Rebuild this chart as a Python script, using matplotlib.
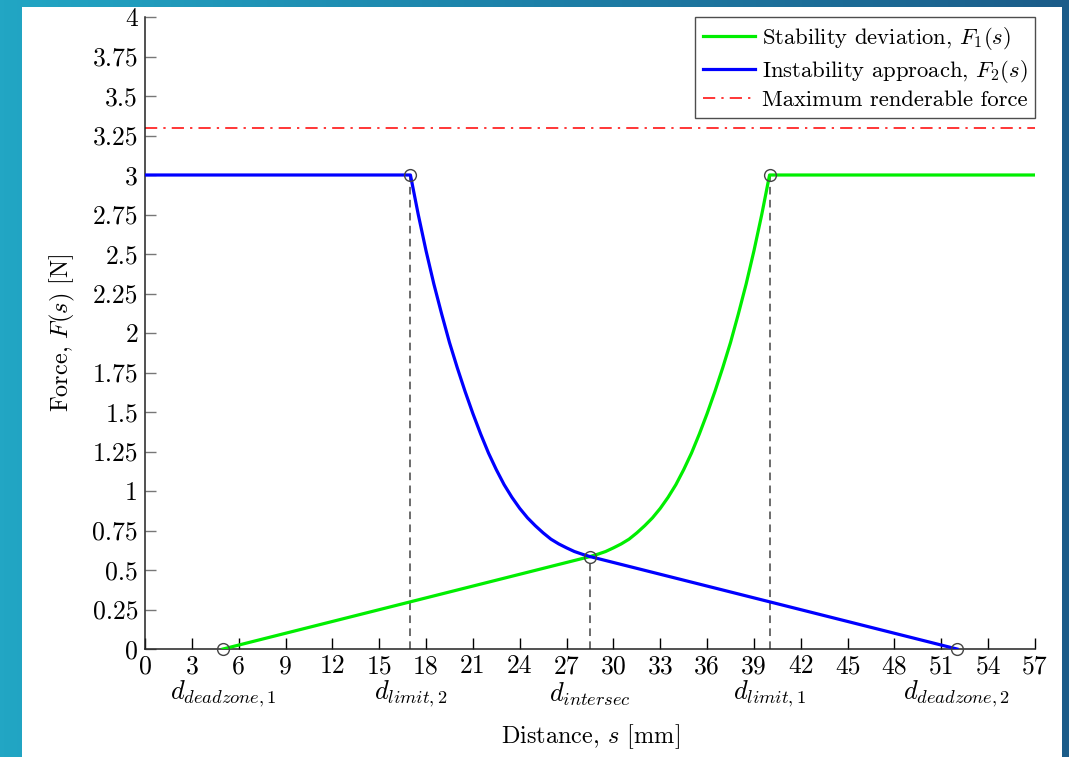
import numpy as np
import matplotlib
matplotlib.use("Agg")
import matplotlib.pyplot as plt
from matplotlib.patches import Rectangle
from matplotlib.colors import LinearSegmentedColormap

plt.rcParams['font.family'] = ['cmr10', 'DejaVu Serif']
plt.rcParams['mathtext.fontset'] = 'cm'
plt.rcParams['axes.unicode_minus'] = False

# ---- data ----
blue_s = [0, 17, 17.5, 18, 18.5, 19, 19.5, 20, 20.5, 21, 21.5, 22, 22.5, 23,
          23.5, 24, 24.5, 25, 25.5, 26, 26.5, 27, 27.5, 28, 28.5, 52]
blue_f = [3, 3, 2.75, 2.52, 2.31, 2.12, 1.94, 1.78, 1.63, 1.49, 1.36, 1.24,
          1.135, 1.04, 0.96, 0.89, 0.83, 0.78, 0.735, 0.695, 0.665, 0.64,
          0.617, 0.60, 0.585, 0]

green_s = [5, 28.5, 29, 29.5, 30, 30.5, 31, 31.5, 32, 32.5, 33, 33.5, 34,
           34.5, 35, 35.5, 36, 36.5, 37, 37.5, 38, 38.5, 39, 39.5, 40, 57]
green_f = [0, 0.585, 0.60, 0.617, 0.64, 0.665, 0.695, 0.735, 0.78, 0.83,
           0.89, 0.96, 1.04, 1.135, 1.24, 1.36, 1.49, 1.63, 1.78, 1.94, 2.12,
           2.31, 2.52, 2.75, 3, 3]

max_force = 3.3
key_s = [5, 17, 28.5, 40, 52]
key_f = [0, 3, 0.585, 3, 0]
key_labels = [r'$d_{deadzone,1}$', r'$d_{limit,2}$', r'$d_{intersec}$',
              r'$d_{limit,1}$', r'$d_{deadzone,2}$']
vlines_s = [17, 28.5, 40]
vlines_f = [3, 0.585, 3]

xticks = list(range(0, 58, 3))
yticks = [0, 0.25, 0.5, 0.75, 1, 1.25, 1.5, 1.75, 2, 2.25, 2.5, 2.75, 3,
          3.25, 3.5, 3.75, 4]

W, H = 1069, 757
fig = plt.figure(figsize=(W / 100, H / 100), dpi=100)

# slide background gradient
bg = fig.add_axes([0, 0, 1, 1], zorder=-10)
cmap = LinearSegmentedColormap.from_list('bg', ['#22a6c4', '#1d80a8', '#1b5c89'])
bg.imshow(np.linspace(0, 1, 256)[None, :], aspect='auto', cmap=cmap,
          extent=[0, 1, 0, 1])
bg.add_patch(Rectangle((22 / W, 0), (1062 - 22) / W, (757 - 7) / H,
                       facecolor='white', edgecolor='none'))
bg.set_xlim(0, 1)
bg.set_ylim(0, 1)
bg.axis('off')

ax = fig.add_axes([145 / W, (H - 649) / H, 890 / W, 632 / H])
ax.set_facecolor('none')

ax.plot(green_s, green_f, color='#00ee00', lw=2.3, solid_joinstyle='round',
        label=r'Stability deviation, $F_1(s)$', zorder=3)
ax.plot(blue_s, blue_f, color='#0000ff', lw=2.3, solid_joinstyle='round',
        label=r'Instability approach, $F_2(s)$', zorder=3)
ax.axhline(max_force, color='red', lw=1.1, dashes=(8, 4, 1.5, 4),
           label='Maximum renderable force', zorder=2)

for s, f in zip(vlines_s, vlines_f):
    ax.plot([s, s], [0, f], color='#444444', lw=1.1, dashes=(5, 3.5), zorder=2)

ax.plot(key_s, key_f, 'o', ms=8.5, mfc='none', mec='#444444', mew=1.0,
        zorder=4, clip_on=False)

for s, lab in zip(key_s, key_labels):
    ax.annotate(lab, xy=(s, 0), xycoords=('data', 'axes fraction'),
                xytext=(0, -45), textcoords='offset pixels',
                ha='center', va='center', fontsize=19)

ax.set_xlim(0, 57)
ax.set_ylim(0, 4)
ax.set_xticks(xticks)
ax.set_xticklabels([str(t) for t in xticks])
ax.set_yticks(yticks)
ax.set_yticklabels(['%g' % t for t in yticks])
ax.tick_params(axis='x', direction='in', length=8, width=1, color='black',
               labelsize=18.5, pad=4)
ax.tick_params(axis='y', direction='in', length=8, width=1, color='#777777',
               labelsize=18.5, pad=5)
for side in ['top', 'right']:
    ax.spines[side].set_visible(False)
for side in ['left', 'bottom']:
    ax.spines[side].set_linewidth(1.1)
    ax.spines[side].set_color('#222222')

fig.text(590 / W, 1 - 737 / H, r'Distance, $s$ [mm]', fontsize=17.5,
         ha='center', va='center')
fig.text(62 / W, 1 - 333 / H, r'Force, $F(s)$ [N]', fontsize=17.5,
         ha='center', va='center', rotation=90)

leg = ax.legend(loc='upper right', bbox_to_anchor=(1.0, 1.0), borderaxespad=0,
                fontsize=16.3, frameon=True, fancybox=False, edgecolor='#222222',
                handlelength=2.3, handletextpad=0.3, labelspacing=0.25,
                borderpad=0.35)
leg.get_frame().set_linewidth(1.0)

fig.savefig('out.png', dpi=100)
